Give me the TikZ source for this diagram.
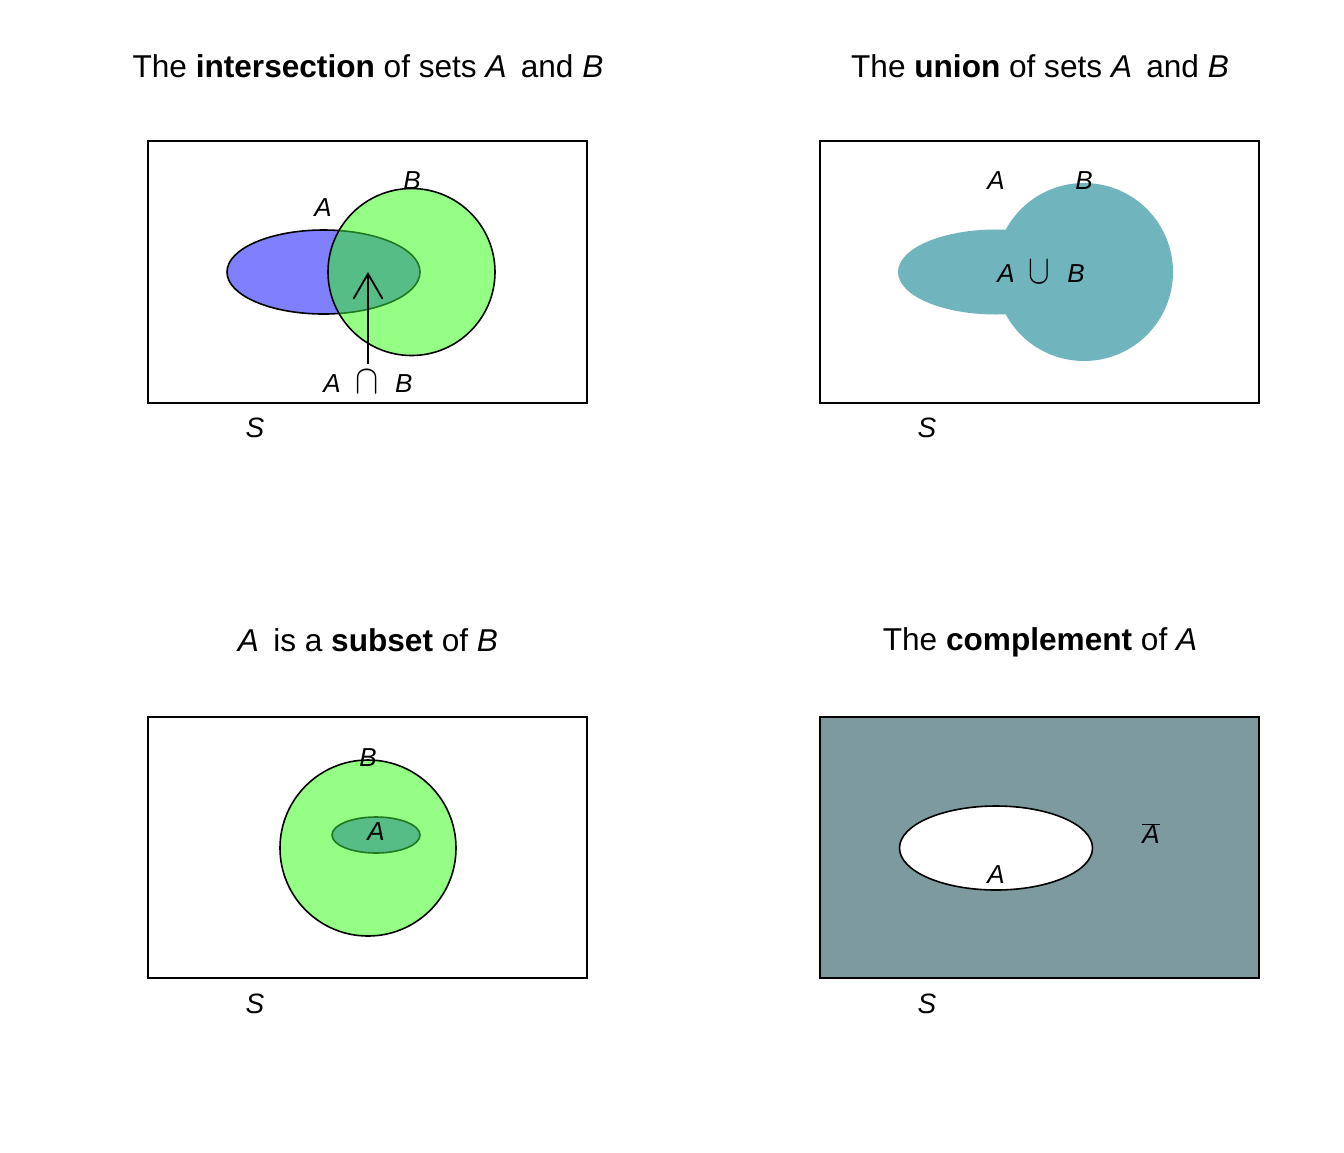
\documentclass[tikz,border=0pt]{standalone}
\usepackage{fontspec}
\setmainfont{Liberation Sans}
\usepackage{graphicx}
\usetikzlibrary{arrows.meta}
\definecolor{setblue}{HTML}{8080FF}
\definecolor{setgreen}{HTML}{95FF85}
\definecolor{overlapgreen}{HTML}{55BD85}
\definecolor{edgegreen}{HTML}{1F7A1F}
\definecolor{unionteal}{HTML}{70B5BD}
\definecolor{complgray}{HTML}{7D9B9E}
\tikzset{
  titletext/.style={anchor=base, inner sep=0pt, font=\fontsize{31.6}{36}\selectfont},
  setlabel/.style={inner sep=0pt, font=\fontsize{26}{30}\selectfont\itshape},
  slabel/.style={inner sep=0pt, font=\fontsize{28}{32}\selectfont\itshape},
  frame/.style={draw=black, line width=1.6pt},
  outline/.style={draw=black, line width=1.6pt},
  pointer/.style={line width=1.8pt, -{Straight Barb[length=25pt,width=29pt]}},
}
\newcommand{\capsym}{\raisebox{-0.05em}{\scalebox{1.4}[1.65]{$\cap$}}}
\newcommand{\cupsym}{\raisebox{-0.05em}{\scalebox{1.3}[1.65]{$\cup$}}}
\begin{document}
\begin{tikzpicture}[x=1pt,y=-1pt]
\path[use as bounding box, fill=white] (0,0) rectangle (1344,1152);

% ---------- Panel 1: intersection ----------
\node[titletext] (t1) at (368,77) {The \textbf{intersection} of sets \textit{A}\hspace{0.45em}and \textit{B}};
\fill[setblue] (323.5,272) ellipse [x radius=96.5, y radius=42];
\fill[setgreen] (411.5,272) circle [radius=83.5];
\begin{scope}
  \clip (411.5,272) circle [radius=83.5];
  \fill[overlapgreen] (323.5,272) ellipse [x radius=96.5, y radius=42];
  \draw[edgegreen, line width=1.6pt] (323.5,272) ellipse [x radius=96.5, y radius=42];
\end{scope}
\begin{scope}
  \clip (0,0) rectangle (1344,1152) (411.5,272) circle [radius=83.5];
  \draw[outline] (323.5,272) ellipse [x radius=96.5, y radius=42];
\end{scope}
\draw[outline] (411.5,272) circle [radius=83.5];
\draw[frame] (148,141) rectangle (587,403);
\node[setlabel] (a1) at (323,208) {A};
\node[setlabel] (b1) at (412,181) {B};
\node[setlabel, anchor=center] (ab1) at (368,382) {A\hspace{0.55em}{\upshape\capsym}\hspace{0.65em}B};
\coordinate (tip1) at (368,272);
\coordinate (tail1) at (368,364);
\draw[pointer] (tail1) -- (tip1);
\node[slabel] (s1) at (255,428) {S};

% ---------- Panel 2: union ----------
\node[titletext] (t2) at (1040,77) {The \textbf{union} of sets \textit{A}\hspace{0.45em}and \textit{B}};
\fill[unionteal] (996,272) ellipse [x radius=98, y radius=42.5];
\fill[unionteal] (1084,272) circle [radius=89];
\draw[frame] (820,141) rectangle (1259,403);
\node[setlabel] (a2) at (996,181) {A};
\node[setlabel] (b2) at (1084,181) {B};
\node[setlabel] (ab2) at (1041,272) {A\hspace{0.55em}{\upshape\cupsym}\hspace{0.65em}B};
\node[slabel] (s2) at (927,428) {S};

% ---------- Panel 3: subset ----------
\node[titletext] (t3) at (368,651) {\textit{A}\hspace{0.45em}is a \textbf{subset} of \textit{B}};
\fill[setblue] (376,835) ellipse [x radius=44, y radius=18];
\fill[setgreen] (368,848) circle [radius=88];
\fill[overlapgreen] (376,835) ellipse [x radius=44, y radius=18];
\draw[edgegreen, line width=1.6pt] (376,835) ellipse [x radius=44, y radius=18];
\draw[outline] (368,848) circle [radius=88];
\draw[frame] (148,717) rectangle (587,978);
\node[setlabel] (b3) at (368,758) {B};
\node[setlabel] (a3) at (376,832) {A};
\node[slabel] (s3) at (255,1004) {S};

% ---------- Panel 4: complement ----------
\node[titletext] (t4) at (1040,650) {The \textbf{complement} of \textit{A}};
\fill[complgray] (820,717) rectangle (1259,978);
\fill[white] (996,848) ellipse [x radius=96.5, y radius=42];
\draw[outline] (996,848) ellipse [x radius=96.5, y radius=42];
\draw[frame] (820,717) rectangle (1259,978);
\node[setlabel] (a4) at (996,875) {A};
\node[setlabel] (abar) at (1151,834) {$\overline{\mbox{\itshape A}}$};
\node[slabel] (s4) at (927,1004) {S};
\end{tikzpicture}
\end{document}
